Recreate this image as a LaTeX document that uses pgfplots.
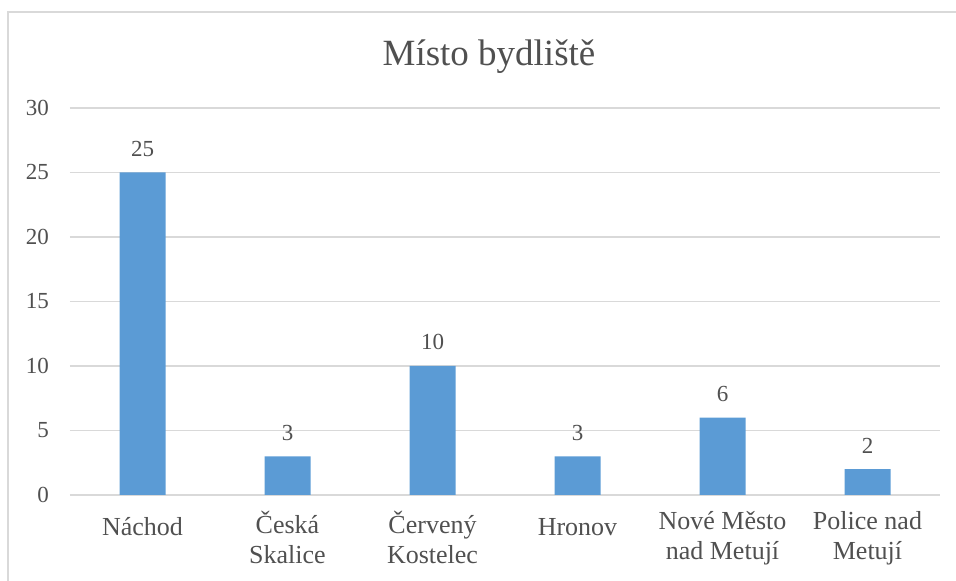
\documentclass[border=0pt]{standalone}
\usepackage{fontspec}
\setmainfont{Liberation Serif}
\usepackage{pgfplots}
\pgfplotsset{compat=1.18}
\definecolor{barBlue}{HTML}{5B9BD5}
\definecolor{gridGray}{HTML}{D9D9D9}
\definecolor{textGray}{HTML}{505050}
\definecolor{frameGray}{HTML}{D9D9D9}

\begin{document}
\begin{tikzpicture}
  \begin{axis}[
      scale only axis,
      width=870bp, height=387bp,
      ybar, bar width=46bp,
      xmin=-0.5, xmax=5.5,
      ymin=0, ymax=30,
      ytick={0,5,...,30},
      xtick=data,
      xticklabels={Náchod, {Česká\\Skalice}, {Červený\\Kostelec}, Hronov, {Nové Město\\nad Metují}, {Police nad\\Metují}},
      /pgf/number format/assume math mode=true,
      axis line style={draw=none},
      axis x line*=bottom,
      major tick length=0pt,
      ymajorgrids, grid style={gridGray, line width=1.2bp},
      extra y ticks={0}, extra y tick labels={},
      extra y tick style={grid style={gridGray, line width=1.6bp}},
      tick label style={text=textGray, inner sep=0pt},
      yticklabel style={font=\fontsize{23bp}{27bp}\selectfont, anchor=east, xshift=-21bp},
      xticklabel style={font=\fontsize{26bp}{30bp}\selectfont, align=center, anchor=north, yshift=-16bp,
        execute at begin node={\rule{0pt}{24bp}}},
      nodes near coords,
      nodes near coords style={font=\fontsize{23bp}{27bp}\selectfont, text=textGray, anchor=base, inner sep=0pt, yshift=16bp},
      clip=false,
    ]
    \addplot[fill=barBlue, draw=none] coordinates {(0,25) (1,3) (2,10) (3,3) (4,6) (5,2)};
    \node[anchor=base, text=textGray, font=\fontsize{37bp}{43bp}\selectfont] at (rel axis cs:0.4816,1.1085) {Místo bydliště};
    \draw[frameGray, line width=1.2bp] (rel axis cs:-0.0713,-0.2222) -- (rel axis cs:-0.0713,1.2481) -- (rel axis cs:1.0184,1.2481);
    \coordinate (BL) at (rel axis cs:-0.08046,-0.22222);
    \coordinate (TR) at (rel axis cs:1.01839,1.27907);
  \end{axis}
  \pgfresetboundingbox
  \path[use as bounding box] (BL) rectangle (TR);
\end{tikzpicture}
\end{document}
